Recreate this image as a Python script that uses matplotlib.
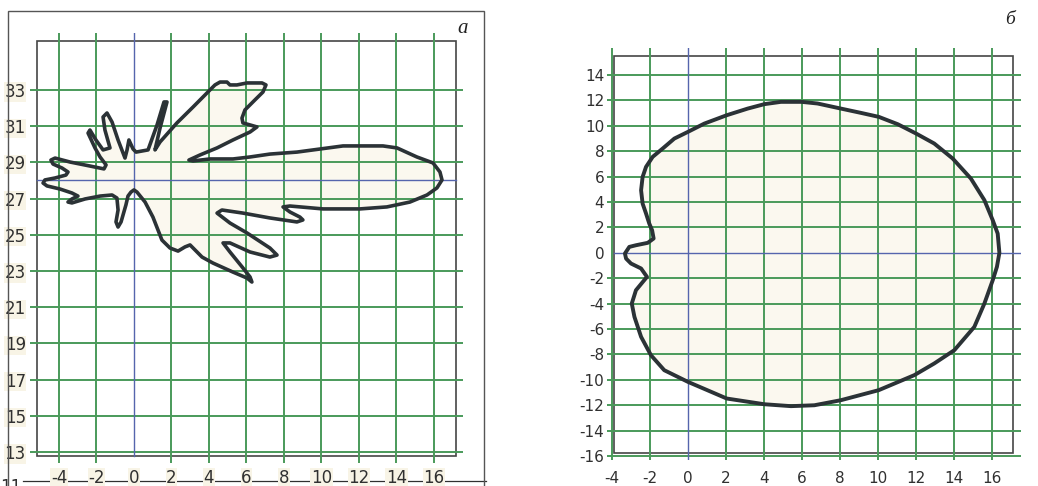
import matplotlib
matplotlib.use("Agg")
import matplotlib.pyplot as plt
from matplotlib.patches import Rectangle, Polygon
from matplotlib.lines import Line2D

plt.rcParams['font.family'] = ['Liberation Sans Narrow', 'DejaVu Sans']

# ---- data: panel "а" outline (x, y) ----
shape_a_x = [16.43, 16.32, 15.95, 15.09, 14.03, 13.28, 11.15, 9.92, 8.69, 7.25,
             6.19, 5.28, 4.05, 3.15, 2.93, 3.52, 4.43, 5.28, 6.19, 6.56,
             6.19, 5.81, 5.76, 5.92, 6.45, 6.88, 7.04, 6.83, 6.03, 5.49,
             5.12, 4.96, 4.59, 4.32, 4.05, 3.15, 2.29, 1.39, 1.12, 1.39,
             1.76, 1.60, 1.23, 0.75, 0.43, 0.11, -0.05, -0.27, -0.37, -0.48,
             -0.85, -1.17, -1.44, -1.65, -1.55, -1.28, -1.65, -2.03, -2.35, -2.45,
             -2.08, -1.81, -1.49, -1.60, -2.35, -3.41, -4.21, -4.43, -4.32, -3.84,
             -3.52, -3.63, -4.21, -4.75, -4.85, -4.64, -3.95, -3.31, -2.99, -3.31,
             -3.52, -3.31, -2.61, -1.81, -1.17, -0.91, -0.85, -0.96, -0.85, -0.69,
             -0.43, -0.32, -0.16, 0.00, 0.16, 0.59, 1.01, 1.49, 1.92, 2.35,
             2.72, 2.99, 3.63, 4.21, 5.28, 6.03, 6.29, 6.19, 5.81, 5.12,
             4.75, 5.12, 6.19, 7.25, 7.63, 7.25, 6.03, 5.12, 4.43, 4.69,
             5.81, 7.25, 8.69, 9.01, 8.85, 8.32, 7.95, 8.32, 10.08, 12.05,
             13.49, 14.72, 15.63, 16.16]
shape_a_y = [28.03, 28.47, 28.97, 29.30, 29.80, 29.91, 29.91, 29.74, 29.57, 29.46,
             29.30, 29.19, 29.19, 29.08, 29.13, 29.41, 29.80, 30.24, 30.68, 30.96,
             31.07, 31.18, 31.45, 31.90, 32.45, 32.89, 33.28, 33.39, 33.39, 33.28,
             33.28, 33.44, 33.44, 33.28, 33.00, 32.06, 31.18, 30.13, 29.69, 30.90,
             32.34, 32.34, 31.07, 29.69, 29.63, 29.57, 29.74, 30.24, 29.69, 29.24,
             30.24, 31.23, 31.73, 31.51, 30.79, 29.80, 29.69, 30.24, 30.79, 30.62,
             29.80, 29.30, 28.86, 28.64, 28.80, 29.02, 29.24, 29.13, 28.91, 28.69,
             28.47, 28.30, 28.14, 28.03, 27.86, 27.70, 27.53, 27.31, 27.14, 26.98,
             26.81, 26.76, 26.98, 27.14, 27.20, 27.03, 26.37, 25.71, 25.43, 25.71,
             26.65, 27.14, 27.36, 27.48, 27.36, 26.81, 25.98, 24.71, 24.27, 24.10,
             24.33, 24.44, 23.77, 23.44, 22.94, 22.61, 22.39, 22.67, 23.17, 24.05,
             24.55, 24.55, 24.05, 23.77, 23.88, 24.27, 25.10, 25.65, 26.20, 26.37,
             26.20, 25.93, 25.71, 25.82, 25.98, 26.26, 26.54, 26.59, 26.43, 26.43,
             26.54, 26.81, 27.20, 27.59]

# ---- data: panel "б" outline (x, y) ----
shape_b_x = [-3.32, -3.09, -2.74, -2.12, -1.81, -1.89, -2.04, -2.21, -2.39, -2.47,
             -2.39, -2.21, -1.86, -1.33, -0.72, 0.00, 0.86, 2.04, 3.14, 4.02,
             4.89, 5.98, 6.82, 8.05, 9.11, 10.04, 11.04, 12.00, 12.96, 13.93,
             14.89, 15.60, 16.04, 16.30, 16.39, 16.26, 16.04, 15.60, 15.07, 14.02,
             12.96, 11.91, 10.04, 8.05, 6.65, 5.42, 4.02, 2.04, 0.00, -1.25,
             -1.95, -2.47, -2.82, -2.96, -2.74, -2.16, -2.47, -3.00, -3.26]
shape_b_y = [-0.05, 0.47, 0.60, 0.79, 1.13, 1.78, 2.31, 3.10, 3.88, 4.93,
             5.98, 6.77, 7.56, 8.22, 9.00, 9.53, 10.18, 10.84, 11.36, 11.71,
             11.89, 11.89, 11.76, 11.36, 11.02, 10.71, 10.13, 9.40, 8.61, 7.43,
             5.85, 4.15, 2.57, 1.52, 0.00, -1.10, -2.15, -3.99, -5.83, -7.66,
             -8.71, -9.63, -10.81, -11.60, -12.00, -12.07, -11.92, -11.47, -10.16, -9.24,
             -8.06, -6.61, -5.04, -3.99, -2.94, -1.89, -1.23, -0.84, -0.45]

a_xticks = [-4, -2, 0, 2, 4, 6, 8, 10, 12, 14, 16]
a_yticks = [13, 15, 17, 19, 21, 23, 25, 27, 29, 31, 33]
b_xticks = [-4, -2, 0, 2, 4, 6, 8, 10, 12, 14, 16]
b_yticks = [14, 12, 10, 8, 6, 4, 2, 0, -2, -4, -6, -8, -10, -12, -14, -16]

GREEN = "#4a9a5a"
BLUE = "#5565ad"
OUTLINE = "#2b3236"
FILL = "#fbf8ef"
FRAME = "#454545"
LABEL_BG = "#f8f4e6"

fig = plt.figure(figsize=(10.38, 4.86), dpi=100)

# outer frame around panel "а"
fig.add_artist(Rectangle((0.0077, -0.05), 0.4586, 1.0274, transform=fig.transFigure,
                         fill=False, edgecolor="#555555", linewidth=1.0))

# ==========================================
# Panel "а"
# ==========================================
ax = fig.add_axes([0.0289, 0.0473, 0.4171, 0.8848])
ax.set_xlim(-5.547, 17.547)
ax.set_ylim(12.39, 36.15)
for s in ax.spines.values():
    s.set_visible(False)

ax.add_patch(Polygon(list(zip(shape_a_x, shape_a_y)), closed=True,
                     facecolor=FILL, edgecolor="none", zorder=1))
ax.add_patch(Rectangle((-5.17, 12.78), 22.34, 22.93, fill=False,
                       edgecolor=FRAME, linewidth=1.2, zorder=2))
for xv in a_xticks:
    if xv != 0:
        ax.axvline(xv, color=GREEN, linewidth=1.4, zorder=3)
for yv in a_yticks:
    ax.axhline(yv, color=GREEN, linewidth=1.4, zorder=3)
ax.plot([0, 0], [12.78, 36.15], color=BLUE, linewidth=1.0, zorder=3)
ax.plot([-5.17, 17.17], [28, 28], color=BLUE, linewidth=1.0, zorder=3)
ax.add_patch(Polygon(list(zip(shape_a_x, shape_a_y)), closed=True,
                     facecolor="none", edgecolor=OUTLINE, linewidth=2.6,
                     joinstyle="round", zorder=4))

ax.set_xticks(a_xticks)
ax.set_xticklabels([str(v) for v in a_xticks])
ax.set_yticks(a_yticks)
ax.set_yticklabels([str(v) for v in a_yticks])
ax.tick_params(length=0, labelsize=12, colors="#303030")
ax.tick_params(axis="x", pad=4)
ax.tick_params(axis="y", pad=3)
for lab in ax.get_xticklabels() + ax.get_yticklabels():
    lab.set_bbox(dict(facecolor=LABEL_BG, edgecolor="none", pad=0.5))

# underscore baseline under the x labels
ax.add_line(Line2D([-5.9, 18.8], [11.42, 11.42], color="#303030",
                   linewidth=0.9, clip_on=False, zorder=1))
ax.text(-6.0, 11.05, "11", fontsize=12, color="#303030", ha="right",
        va="center", clip_on=False)
fig.text(0.446, 0.942, "а", fontsize=15, fontstyle="italic",
         family="Liberation Serif", color="#222222", ha="center", va="center")

# ==========================================
# Panel "б"
# ==========================================
bx = fig.add_axes([0.5848, 0.0535, 0.3988, 0.8477])
bx.set_xlim(-4.263, 17.526)
bx.set_ylim(-16.31, 16.13)
for s in bx.spines.values():
    s.set_visible(False)

bx.add_patch(Polygon(list(zip(shape_b_x, shape_b_y)), closed=True,
                     facecolor=FILL, edgecolor="none", zorder=1))
bx.add_patch(Rectangle((-3.92, -15.76), 21.02, 31.26, fill=False,
                       edgecolor=FRAME, linewidth=1.2, zorder=2))
for xv in b_xticks:
    if xv != 0:
        bx.axvline(xv, color=GREEN, linewidth=1.4, zorder=3)
for yv in b_yticks:
    if yv != 0:
        bx.axhline(yv, color=GREEN, linewidth=1.4, zorder=3)
bx.axvline(0, color=BLUE, linewidth=1.0, zorder=3)
bx.plot([-3.92, 17.526], [0, 0], color=BLUE, linewidth=1.0, zorder=3)
bx.add_patch(Polygon(list(zip(shape_b_x, shape_b_y)), closed=True,
                     facecolor="none", edgecolor=OUTLINE, linewidth=2.8,
                     joinstyle="round", zorder=4))

bx.set_xticks(b_xticks)
bx.set_xticklabels([str(v) for v in b_xticks])
bx.set_yticks(b_yticks)
bx.set_yticklabels([str(v) for v in b_yticks])
bx.tick_params(length=0, labelsize=11, colors="#303030")
bx.tick_params(axis="x", pad=8)
bx.tick_params(axis="y", pad=2)
fig.text(0.973, 0.959, "б", fontsize=14, fontstyle="italic",
         family="Liberation Serif", color="#222222", ha="center", va="center")

plt.savefig("out.png", dpi=100)
plt.close()
